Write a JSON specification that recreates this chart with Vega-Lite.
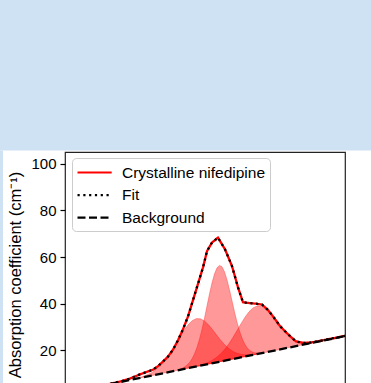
{
  "$schema": "https://vega.github.io/schema/vega-lite/v6.json",
  "width": 280,
  "height": 245,
  "autosize": {"type": "none"},
  "padding": {"left": 65, "top": 152, "right": 26, "bottom": 0},
  "background": "white",
  "config": {
    "font": "Liberation Sans",
    "view": {"stroke": "#222222", "strokeWidth": 1.2},
    "axisY": {
      "values": [0, 20, 40, 60, 80, 100],
      "tickSize": 5,
      "tickWidth": 1.2,
      "tickColor": "#000000",
      "labelFontSize": 15,
      "labelColor": "#000000",
      "labelPadding": 4,
      "domain": false,
      "grid": false,
      "titleFontSize": 16.5,
      "titleFontWeight": "normal",
      "titleColor": "#000000",
      "titlePadding": 7,
      "zindex": 1
    },
    "legend": {
      "orient": "none",
      "legendX": 7,
      "legendY": 6,
      "symbolType": "M-1,0H2.8",
      "symbolSize": 324,
      "symbolStrokeWidth": 2.2,
      "labelFontSize": 15.5,
      "labelColor": "#000000",
      "labelFont": "Liberation Sans",
      "padding": 4,
      "strokeColor": "#cccccc",
      "fillColor": "white",
      "cornerRadius": 4,
      "rowPadding": 3.6,
      "labelOffset": 25
    }
  },
  "datasets": {
    "curves": [
      {"series": "Crystalline nifedipine", "x": 0.2, "y": 1.8},
      {"series": "Crystalline nifedipine", "x": 0.35, "y": 3.1},
      {"series": "Crystalline nifedipine", "x": 0.5, "y": 4.4},
      {"series": "Crystalline nifedipine", "x": 0.6, "y": 5.2},
      {"series": "Crystalline nifedipine", "x": 0.68, "y": 5.9},
      {"series": "Crystalline nifedipine", "x": 0.75, "y": 6.6},
      {"series": "Crystalline nifedipine", "x": 0.85, "y": 7.9},
      {"series": "Crystalline nifedipine", "x": 0.95, "y": 9.7},
      {"series": "Crystalline nifedipine", "x": 1.02, "y": 10.8},
      {"series": "Crystalline nifedipine", "x": 1.08, "y": 11.7},
      {"series": "Crystalline nifedipine", "x": 1.13, "y": 13.2},
      {"series": "Crystalline nifedipine", "x": 1.18, "y": 15.2},
      {"series": "Crystalline nifedipine", "x": 1.23, "y": 17.3},
      {"series": "Crystalline nifedipine", "x": 1.28, "y": 20.3},
      {"series": "Crystalline nifedipine", "x": 1.33, "y": 24.3},
      {"series": "Crystalline nifedipine", "x": 1.38, "y": 29.0},
      {"series": "Crystalline nifedipine", "x": 1.43, "y": 34.5},
      {"series": "Crystalline nifedipine", "x": 1.48, "y": 41.5},
      {"series": "Crystalline nifedipine", "x": 1.53, "y": 48.5},
      {"series": "Crystalline nifedipine", "x": 1.58, "y": 55.5},
      {"series": "Crystalline nifedipine", "x": 1.62, "y": 62.5},
      {"series": "Crystalline nifedipine", "x": 1.67, "y": 66.2},
      {"series": "Crystalline nifedipine", "x": 1.73, "y": 68.3},
      {"series": "Crystalline nifedipine", "x": 1.8, "y": 63.3},
      {"series": "Crystalline nifedipine", "x": 1.87, "y": 56.1},
      {"series": "Crystalline nifedipine", "x": 1.93, "y": 47.0},
      {"series": "Crystalline nifedipine", "x": 1.98, "y": 40.6},
      {"series": "Crystalline nifedipine", "x": 2.05, "y": 40.2},
      {"series": "Crystalline nifedipine", "x": 2.11, "y": 40.0},
      {"series": "Crystalline nifedipine", "x": 2.17, "y": 39.6},
      {"series": "Crystalline nifedipine", "x": 2.23, "y": 37.3},
      {"series": "Crystalline nifedipine", "x": 2.29, "y": 34.0},
      {"series": "Crystalline nifedipine", "x": 2.35, "y": 30.4},
      {"series": "Crystalline nifedipine", "x": 2.4, "y": 28.2},
      {"series": "Crystalline nifedipine", "x": 2.45, "y": 26.1},
      {"series": "Crystalline nifedipine", "x": 2.51, "y": 23.8},
      {"series": "Crystalline nifedipine", "x": 2.58, "y": 23.2},
      {"series": "Crystalline nifedipine", "x": 2.65, "y": 23.3},
      {"series": "Crystalline nifedipine", "x": 2.72, "y": 23.8},
      {"series": "Crystalline nifedipine", "x": 2.79, "y": 24.4},
      {"series": "Crystalline nifedipine", "x": 2.86, "y": 25.0},
      {"series": "Crystalline nifedipine", "x": 2.93, "y": 25.6},
      {"series": "Crystalline nifedipine", "x": 3.0, "y": 26.2},
      {"series": "Fit", "x": 0.2, "y": 1.8},
      {"series": "Fit", "x": 0.35, "y": 3.1},
      {"series": "Fit", "x": 0.5, "y": 4.4},
      {"series": "Fit", "x": 0.6, "y": 5.2},
      {"series": "Fit", "x": 0.68, "y": 5.9},
      {"series": "Fit", "x": 0.75, "y": 6.6},
      {"series": "Fit", "x": 0.85, "y": 7.9},
      {"series": "Fit", "x": 0.95, "y": 9.7},
      {"series": "Fit", "x": 1.02, "y": 10.8},
      {"series": "Fit", "x": 1.08, "y": 11.7},
      {"series": "Fit", "x": 1.13, "y": 13.2},
      {"series": "Fit", "x": 1.18, "y": 15.2},
      {"series": "Fit", "x": 1.23, "y": 17.3},
      {"series": "Fit", "x": 1.28, "y": 20.3},
      {"series": "Fit", "x": 1.33, "y": 24.3},
      {"series": "Fit", "x": 1.38, "y": 29.0},
      {"series": "Fit", "x": 1.43, "y": 34.5},
      {"series": "Fit", "x": 1.48, "y": 41.5},
      {"series": "Fit", "x": 1.53, "y": 48.5},
      {"series": "Fit", "x": 1.58, "y": 55.5},
      {"series": "Fit", "x": 1.62, "y": 62.5},
      {"series": "Fit", "x": 1.67, "y": 66.2},
      {"series": "Fit", "x": 1.73, "y": 68.3},
      {"series": "Fit", "x": 1.8, "y": 63.3},
      {"series": "Fit", "x": 1.87, "y": 56.1},
      {"series": "Fit", "x": 1.93, "y": 47.0},
      {"series": "Fit", "x": 1.98, "y": 40.6},
      {"series": "Fit", "x": 2.05, "y": 40.2},
      {"series": "Fit", "x": 2.11, "y": 40.0},
      {"series": "Fit", "x": 2.17, "y": 39.6},
      {"series": "Fit", "x": 2.23, "y": 37.3},
      {"series": "Fit", "x": 2.29, "y": 34.0},
      {"series": "Fit", "x": 2.35, "y": 30.4},
      {"series": "Fit", "x": 2.4, "y": 28.2},
      {"series": "Fit", "x": 2.45, "y": 26.1},
      {"series": "Fit", "x": 2.51, "y": 23.8},
      {"series": "Fit", "x": 2.58, "y": 23.2},
      {"series": "Fit", "x": 2.65, "y": 23.3},
      {"series": "Fit", "x": 2.72, "y": 23.8},
      {"series": "Fit", "x": 2.79, "y": 24.4},
      {"series": "Fit", "x": 2.86, "y": 25.0},
      {"series": "Fit", "x": 2.93, "y": 25.6},
      {"series": "Fit", "x": 3.0, "y": 26.2},
      {"series": "Background", "x": 0.2, "y": 1.59},
      {"series": "Background", "x": 3.0, "y": 26.09}
    ],
    "peaks": [
      {"peak": "P1", "x": 0.915, "lo": 7.85, "hi": 7.99},
      {"peak": "P1", "x": 0.955, "lo": 8.2, "hi": 8.47},
      {"peak": "P1", "x": 0.995, "lo": 8.55, "hi": 9.03},
      {"peak": "P1", "x": 1.035, "lo": 8.9, "hi": 9.74},
      {"peak": "P1", "x": 1.075, "lo": 9.25, "hi": 10.65},
      {"peak": "P1", "x": 1.115, "lo": 9.6, "hi": 11.84},
      {"peak": "P1", "x": 1.155, "lo": 9.95, "hi": 13.36},
      {"peak": "P1", "x": 1.195, "lo": 10.3, "hi": 15.26},
      {"peak": "P1", "x": 1.235, "lo": 10.65, "hi": 17.57},
      {"peak": "P1", "x": 1.275, "lo": 11.0, "hi": 20.23},
      {"peak": "P1", "x": 1.315, "lo": 11.35, "hi": 23.13},
      {"peak": "P1", "x": 1.355, "lo": 11.7, "hi": 26.08},
      {"peak": "P1", "x": 1.395, "lo": 12.05, "hi": 28.84},
      {"peak": "P1", "x": 1.435, "lo": 12.4, "hi": 31.16},
      {"peak": "P1", "x": 1.475, "lo": 12.75, "hi": 32.8},
      {"peak": "P1", "x": 1.515, "lo": 13.1, "hi": 33.6},
      {"peak": "P1", "x": 1.555, "lo": 13.45, "hi": 33.5},
      {"peak": "P1", "x": 1.595, "lo": 13.8, "hi": 32.56},
      {"peak": "P1", "x": 1.635, "lo": 14.15, "hi": 30.94},
      {"peak": "P1", "x": 1.675, "lo": 14.5, "hi": 28.88},
      {"peak": "P1", "x": 1.715, "lo": 14.85, "hi": 26.63},
      {"peak": "P1", "x": 1.755, "lo": 15.2, "hi": 24.43},
      {"peak": "P1", "x": 1.795, "lo": 15.55, "hi": 22.47},
      {"peak": "P1", "x": 1.835, "lo": 15.9, "hi": 20.86},
      {"peak": "P1", "x": 1.875, "lo": 16.25, "hi": 19.66},
      {"peak": "P1", "x": 1.915, "lo": 16.6, "hi": 18.84},
      {"peak": "P1", "x": 1.955, "lo": 16.95, "hi": 18.35},
      {"peak": "P1", "x": 1.995, "lo": 17.3, "hi": 18.14},
      {"peak": "P1", "x": 2.035, "lo": 17.65, "hi": 18.13},
      {"peak": "P1", "x": 2.075, "lo": 18.0, "hi": 18.27},
      {"peak": "P1", "x": 2.115, "lo": 18.35, "hi": 18.49},
      {"peak": "P2", "x": 1.345, "lo": 11.61, "hi": 11.86},
      {"peak": "P2", "x": 1.37, "lo": 11.83, "hi": 12.29},
      {"peak": "P2", "x": 1.395, "lo": 12.05, "hi": 12.87},
      {"peak": "P2", "x": 1.42, "lo": 12.27, "hi": 13.68},
      {"peak": "P2", "x": 1.445, "lo": 12.48, "hi": 14.8},
      {"peak": "P2", "x": 1.47, "lo": 12.7, "hi": 16.37},
      {"peak": "P2", "x": 1.495, "lo": 12.92, "hi": 18.51},
      {"peak": "P2", "x": 1.52, "lo": 13.14, "hi": 21.31},
      {"peak": "P2", "x": 1.545, "lo": 13.36, "hi": 24.84},
      {"peak": "P2", "x": 1.57, "lo": 13.58, "hi": 29.08},
      {"peak": "P2", "x": 1.595, "lo": 13.8, "hi": 33.9},
      {"peak": "P2", "x": 1.62, "lo": 14.02, "hi": 39.07},
      {"peak": "P2", "x": 1.645, "lo": 14.23, "hi": 44.22},
      {"peak": "P2", "x": 1.67, "lo": 14.45, "hi": 48.95},
      {"peak": "P2", "x": 1.695, "lo": 14.67, "hi": 52.79},
      {"peak": "P2", "x": 1.72, "lo": 14.89, "hi": 55.37},
      {"peak": "P2", "x": 1.745, "lo": 15.11, "hi": 56.41},
      {"peak": "P2", "x": 1.77, "lo": 15.33, "hi": 55.81},
      {"peak": "P2", "x": 1.795, "lo": 15.55, "hi": 53.67},
      {"peak": "P2", "x": 1.82, "lo": 15.77, "hi": 50.27},
      {"peak": "P2", "x": 1.845, "lo": 15.98, "hi": 45.97},
      {"peak": "P2", "x": 1.87, "lo": 16.2, "hi": 41.25},
      {"peak": "P2", "x": 1.895, "lo": 16.42, "hi": 36.52},
      {"peak": "P2", "x": 1.92, "lo": 16.64, "hi": 32.14},
      {"peak": "P2", "x": 1.945, "lo": 16.86, "hi": 28.34},
      {"peak": "P2", "x": 1.97, "lo": 17.08, "hi": 25.25},
      {"peak": "P2", "x": 1.995, "lo": 17.3, "hi": 22.89},
      {"peak": "P2", "x": 2.02, "lo": 17.52, "hi": 21.19},
      {"peak": "P2", "x": 2.045, "lo": 17.73, "hi": 20.05},
      {"peak": "P2", "x": 2.07, "lo": 17.95, "hi": 19.36},
      {"peak": "P2", "x": 2.095, "lo": 18.17, "hi": 18.99},
      {"peak": "P2", "x": 2.12, "lo": 18.39, "hi": 18.85},
      {"peak": "P2", "x": 2.145, "lo": 18.61, "hi": 18.86},
      {"peak": "P3", "x": 1.52, "lo": 13.14, "hi": 13.28},
      {"peak": "P3", "x": 1.56, "lo": 13.49, "hi": 13.76},
      {"peak": "P3", "x": 1.6, "lo": 13.84, "hi": 14.33},
      {"peak": "P3", "x": 1.64, "lo": 14.19, "hi": 15.04},
      {"peak": "P3", "x": 1.68, "lo": 14.54, "hi": 15.95},
      {"peak": "P3", "x": 1.72, "lo": 14.89, "hi": 17.14},
      {"peak": "P3", "x": 1.76, "lo": 15.24, "hi": 18.66},
      {"peak": "P3", "x": 1.8, "lo": 15.59, "hi": 20.58},
      {"peak": "P3", "x": 1.84, "lo": 15.94, "hi": 22.89},
      {"peak": "P3", "x": 1.88, "lo": 16.29, "hi": 25.57},
      {"peak": "P3", "x": 1.92, "lo": 16.64, "hi": 28.48},
      {"peak": "P3", "x": 1.96, "lo": 16.99, "hi": 31.44},
      {"peak": "P3", "x": 2.0, "lo": 17.34, "hi": 34.22},
      {"peak": "P3", "x": 2.04, "lo": 17.69, "hi": 36.54},
      {"peak": "P3", "x": 2.08, "lo": 18.04, "hi": 38.19},
      {"peak": "P3", "x": 2.12, "lo": 18.39, "hi": 38.99},
      {"peak": "P3", "x": 2.16, "lo": 18.74, "hi": 38.89},
      {"peak": "P3", "x": 2.2, "lo": 19.09, "hi": 37.94},
      {"peak": "P3", "x": 2.24, "lo": 19.44, "hi": 36.32},
      {"peak": "P3", "x": 2.28, "lo": 19.79, "hi": 34.24},
      {"peak": "P3", "x": 2.32, "lo": 20.14, "hi": 31.98},
      {"peak": "P3", "x": 2.36, "lo": 20.49, "hi": 29.77},
      {"peak": "P3", "x": 2.4, "lo": 20.84, "hi": 27.79},
      {"peak": "P3", "x": 2.44, "lo": 21.19, "hi": 26.18},
      {"peak": "P3", "x": 2.48, "lo": 21.54, "hi": 24.96},
      {"peak": "P3", "x": 2.52, "lo": 21.89, "hi": 24.14},
      {"peak": "P3", "x": 2.56, "lo": 22.24, "hi": 23.65},
      {"peak": "P3", "x": 2.6, "lo": 22.59, "hi": 23.44},
      {"peak": "P3", "x": 2.64, "lo": 22.94, "hi": 23.43},
      {"peak": "P3", "x": 2.68, "lo": 23.29, "hi": 23.56},
      {"peak": "P3", "x": 2.72, "lo": 23.64, "hi": 23.78}
    ]
  },
  "layer": [
    {
      "data": {"values": [{}]},
      "mark": {"type": "rect", "fill": "#cfe2f3", "stroke": null},
      "encoding": {
        "x": {"datum": -1, "type": "quantitative", "scale": {"domain": [0.2, 3.0], "nice": false, "zero": false}, "axis": null},
        "x2": {"datum": 4},
        "y": {"datum": 105.6, "type": "quantitative", "scale": {"domain": [0, 105], "nice": false, "zero": false}, "axis": {"title": "Absorption coefficient (cm⁻¹)"}},
        "y2": {"datum": 200}
      }
    },
    {
      "data": {"values": [{}]},
      "mark": {"type": "rect", "fill": "#cfe2f3", "stroke": null},
      "encoding": {
        "x": {"datum": -1, "type": "quantitative"},
        "x2": {"datum": -0.42},
        "y": {"datum": -20, "type": "quantitative"},
        "y2": {"datum": 105.6}
      }
    },
    {
      "data": {"name": "peaks"},
      "mark": {"type": "area", "fill": "#ff0000", "fillOpacity": 0.4, "stroke": "#ff0000", "strokeOpacity": 0.3, "strokeWidth": 1},
      "encoding": {
        "x": {"field": "x", "type": "quantitative"},
        "y": {"field": "hi", "type": "quantitative"},
        "y2": {"field": "lo"},
        "detail": {"field": "peak", "type": "nominal"}
      }
    },
    {
      "data": {"name": "curves"},
      "transform": [{"filter": "datum.series === 'Crystalline nifedipine'"}],
      "mark": {"type": "line", "strokeWidth": 2.3},
      "encoding": {
        "x": {"field": "x", "type": "quantitative"},
        "y": {"field": "y", "type": "quantitative"},
        "color": {"field": "series", "type": "nominal", "scale": {"domain": ["Crystalline nifedipine", "Fit", "Background"], "range": ["#ff0000", "#000000", "#000000"]}, "legend": {"title": null}},
        "strokeDash": {"field": "series", "type": "nominal", "scale": {"domain": ["Crystalline nifedipine", "Fit", "Background"], "range": [[1, 0], [2.2, 3.6], [8, 3.5]]}, "legend": {"title": null}}
      }
    },
    {
      "data": {"name": "curves"},
      "transform": [{"filter": "datum.series === 'Fit'"}],
      "mark": {"type": "line", "strokeWidth": 2.3},
      "encoding": {
        "x": {"field": "x", "type": "quantitative"},
        "y": {"field": "y", "type": "quantitative"},
        "color": {"field": "series", "type": "nominal"},
        "strokeDash": {"field": "series", "type": "nominal"}
      }
    },
    {
      "data": {"name": "curves"},
      "transform": [{"filter": "datum.series === 'Background'"}],
      "mark": {"type": "line", "strokeWidth": 2.3},
      "encoding": {
        "x": {"field": "x", "type": "quantitative"},
        "y": {"field": "y", "type": "quantitative"},
        "color": {"field": "series", "type": "nominal"},
        "strokeDash": {"field": "series", "type": "nominal"}
      }
    }
  ]
}
